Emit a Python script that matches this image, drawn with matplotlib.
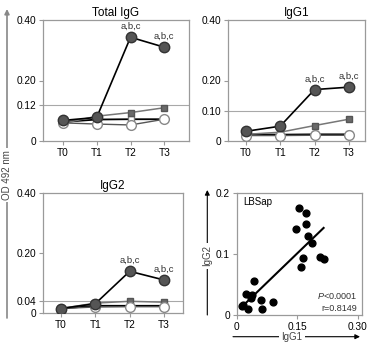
import matplotlib
matplotlib.use('Agg')
import matplotlib.pyplot as plt
import numpy as np

plt.rcParams['font.family'] = ['Liberation Sans', 'DejaVu Sans']
plt.rcParams['mathtext.fontset'] = 'custom'
plt.rcParams['mathtext.rm'] = 'Liberation Sans'
plt.rcParams['mathtext.it'] = 'Liberation Sans:italic'

# time points
times = ['T0', 'T1', 'T2', 'T3']

# Total IgG (OD 492 nm)
total_dark = [0.068, 0.078, 0.343, 0.310]
total_gsq = [0.058, 0.082, 0.094, 0.110]
total_wsq = [0.063, 0.071, 0.072, 0.072]
total_wci = [0.060, 0.056, 0.053, 0.072]

# IgG1
igg1_dark = [0.032, 0.049, 0.170, 0.178]
igg1_gsq = [0.022, 0.029, 0.051, 0.072]
igg1_wsq = [0.022, 0.021, 0.022, 0.022]
igg1_wci = [0.018, 0.018, 0.019, 0.019]

# IgG2
igg2_dark = [0.015, 0.031, 0.139, 0.110]
igg2_gsq = [0.015, 0.033, 0.039, 0.036]
igg2_wsq = [0.015, 0.024, 0.024, 0.024]
igg2_wci = [0.015, 0.020, 0.021, 0.021]

# cut-off lines and y ticks
cutoffs = [0.12, 0.10, 0.04]
yticks_total = [0, 0.12, 0.20, 0.40]
yticks_igg1 = [0, 0.10, 0.20, 0.40]
yticks_igg2 = [0, 0.04, 0.20, 0.40]
ytick_labels_total = ['0', '0.12', '0.20', '0.40']
ytick_labels_igg1 = ['0', '0.10', '0.20', '0.40']
ytick_labels_igg2 = ['0', '0.04', '0.20', '0.40']
sig_label = 'a,b,c'

# correlation IgG1 vs IgG2
scatter_igg1 = [0.015, 0.012, 0.022, 0.029, 0.036, 0.037, 0.044, 0.061, 0.063, 0.089,
                0.155, 0.171, 0.147, 0.172, 0.176, 0.187, 0.165, 0.159, 0.205, 0.215]
scatter_igg2 = [0.016, 0.015, 0.035, 0.010, 0.028, 0.032, 0.056, 0.024, 0.009, 0.021,
                0.175, 0.167, 0.140, 0.148, 0.130, 0.118, 0.094, 0.079, 0.095, 0.091]

W, H = 367, 343
fig = plt.figure(figsize=(W / 100, H / 100), dpi=100)


def px_axes(l, r, t, b):
    return fig.add_axes([l / W, 1 - b / H, (r - l) / W, (b - t) / H])


spine_col = '#9a9a9a'
x = np.arange(len(times))


def line_panel(ax, dark, gsq, wsq, wci, cutoff, yt, ytl, title, xl):
    ax.axhline(cutoff, color='#a8a8a8', lw=0.8, zorder=1)
    ax.plot(x, wsq, '-s', color='black', lw=1.3, ms=5, mfc='white', mec='#777777', zorder=3)
    ax.plot(x, gsq, '-s', color='#777777', lw=1.1, ms=5, mfc='#6a6a6a', mec='#555555', zorder=4)
    ax.plot(x, wci, '-o', color='#555555', lw=1.0, ms=7, mfc='white', mec='#888888', zorder=4)
    ax.plot(x, dark, '-o', color='black', lw=1.2, ms=7.5, mfc='#555555', mec='#333333', zorder=5)
    for i in [2, 3]:
        ax.annotate(sig_label, (x[i], dark[i]), xytext=(0, 4.5), textcoords='offset points',
                    ha='center', va='bottom', fontsize=6.8, color='#333333')
    ax.set_xlim(*xl)
    ax.set_ylim(0, 0.40)
    ax.set_xticks(x)
    ax.set_xticklabels(times)
    ax.set_yticks(yt)
    ax.set_yticklabels(ytl)
    ax.set_title(title, fontsize=8.5, pad=3)
    for s in ax.spines.values():
        s.set_color(spine_col)
        s.set_linewidth(0.9)
    ax.tick_params(labelsize=7.3, length=3, width=0.8, color=spine_col, pad=2)


ax1 = px_axes(43, 189, 20, 141)
line_panel(ax1, total_dark, total_gsq, total_wsq, total_wci, cutoffs[0],
           yticks_total, ytick_labels_total, 'Total IgG', (-0.59, 3.73))

ax2 = px_axes(228, 365, 20, 141)
line_panel(ax2, igg1_dark, igg1_gsq, igg1_wsq, igg1_wci, cutoffs[1],
           yticks_igg1, ytick_labels_igg1, 'IgG1', (-0.52, 3.47))

ax3 = px_axes(43, 183, 193, 313)
line_panel(ax3, igg2_dark, igg2_gsq, igg2_wsq, igg2_wci, cutoffs[2],
           yticks_igg2, ytick_labels_igg2, 'IgG2', (-0.52, 3.55))

# scatter panel
ax4 = px_axes(236.7, 362, 192.7, 315)
sx = np.array(scatter_igg1)
sy = np.array(scatter_igg2)
ax4.scatter(sx, sy, s=24, color='black', zorder=3)
k, b0 = np.polyfit(sx, sy, 1)
xf = np.array([sx.min(), sx.max()])
ax4.plot(xf, k * xf + b0, color='black', lw=1.5, zorder=2)
ax4.set_xlim(0, 0.31)
ax4.set_ylim(0, 0.2)
ax4.set_xticks([0, 0.15, 0.30])
ax4.set_xticklabels(['0', '0.15', '0.30'])
ax4.set_yticks([0, 0.1, 0.2])
ax4.set_yticklabels(['0', '0.1', '0.2'])
for s in ax4.spines.values():
    s.set_color(spine_col)
    s.set_linewidth(0.9)
ax4.tick_params(labelsize=7.3, length=3, width=0.8, color=spine_col, pad=2)
ax4.text(0.05, 0.92, 'LBSap', transform=ax4.transAxes, fontsize=7, va='center', ha='left')
ax4.text(0.965, 0.155, r'$P$<0.0001', transform=ax4.transAxes, fontsize=6.5,
         va='center', ha='right', color='#333333')
ax4.text(0.965, 0.057, 'r=0.8149', transform=ax4.transAxes, fontsize=6.5,
         va='center', ha='right', color='#333333')

# arrows with labels (figure coordinates)
arrow_kw = dict(arrowstyle='-|>', color='black', lw=0.8, mutation_scale=7, shrinkA=0, shrinkB=0)
ax4.annotate('', xy=(207.3 / W, 1 - 190 / H), xytext=(207.3 / W, 1 - 315 / H),
             xycoords='figure fraction', textcoords='figure fraction', arrowprops=arrow_kw)
fig.text(207.3 / W, 1 - 256 / H, 'IgG2', rotation=90, ha='center', va='center', fontsize=7,
         color='#444444', bbox=dict(facecolor='white', edgecolor='none', pad=1.5))
ax4.annotate('', xy=(360 / W, 1 - 336.7 / H), xytext=(233 / W, 1 - 336.7 / H),
             xycoords='figure fraction', textcoords='figure fraction', arrowprops=arrow_kw)
fig.text(292 / W, 1 - 336.7 / H, 'IgG1', ha='center', va='center', fontsize=7,
         color='#444444', bbox=dict(facecolor='white', edgecolor='none', pad=1.5))

# shared OD axis on the left
od_kw = dict(arrowstyle='-|>', color='#888888', lw=1.2, mutation_scale=7, shrinkA=0, shrinkB=0)
ax1.annotate('', xy=(7 / W, 1 - 9 / H), xytext=(7 / W, 1 - 318 / H),
             xycoords='figure fraction', textcoords='figure fraction', arrowprops=od_kw)
fig.text(7 / W, 1 - 175 / H, 'OD 492 nm', rotation=90, ha='center', va='center', fontsize=7,
         color='#444444', bbox=dict(facecolor='white', edgecolor='none', pad=1.5))

fig.savefig('out.png', dpi=100)
